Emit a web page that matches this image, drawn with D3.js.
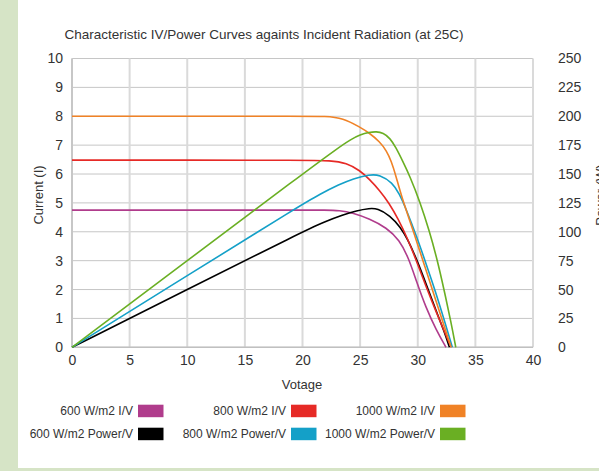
<!DOCTYPE html>
<html><head><meta charset="utf-8">
<script src="https://cdn.jsdelivr.net/npm/d3@7"></script>
<style>
html,body{margin:0;padding:0;background:#fff;}
svg{display:block;}
text{font-family:"Liberation Sans",Arial,sans-serif;fill:#333;}
</style></head>
<body><svg id="c" width="599" height="471"></svg>
<script>
// ---- data ----
const xTicks = [0,5,10,15,20,25,30,35,40];
const leftTicks = [0,1,2,3,4,5,6,7,8,9,10];
const rightTicks = [0,25,50,75,100,125,150,175,200,225,250];

// I/V curves (current, A) vs voltage
const iv600V = [0, 10, 20, 22, 23.2, 24.4, 25.8, 27.3, 28.4, 29.2, 29.9, 30.7, 31.6, 32.45];
const iv600I = [4.75, 4.75, 4.75, 4.75, 4.74, 4.65, 4.45, 4.14, 3.72, 3.1, 2.27, 1.38, 0.6, 0];
const iv800V = [0, 10, 20, 22.5, 23.8, 25.0, 25.8, 26.7, 27.5, 28.3, 29.1, 29.9, 30.7, 31.6, 32.3, 32.9];
const iv800I = [6.48, 6.48, 6.48, 6.47, 6.38, 6.12, 5.82, 5.43, 5.0, 4.45, 3.78, 2.98, 2.12, 1.22, 0.56, 0];
const iv1000V = [0, 10, 20, 22, 23.5, 25.0, 25.8, 26.7, 27.3, 27.7, 28.1, 28.6, 29.6, 30.6, 31.6, 32.3, 32.9];
const iv1000I = [8, 8, 8, 8, 7.94, 7.62, 7.42, 7.12, 6.8, 6.45, 5.95, 5.2, 4.05, 2.82, 1.58, 0.72, 0];

// Power curves (W) vs voltage
const p600V = [0, 10, 20, 22, 23.5, 24.7, 25.8, 26.5, 27.6, 28.5, 29.1, 29.9, 30.7, 31.6, 32.3, 32.75];
const p600P = [0, 50, 100, 109, 114.5, 118.3, 120.3, 120.3, 114, 104, 94, 76.5, 55.5, 31.5, 13.5, 0];
const p800V = [0, 10, 20, 21.5, 23.2, 24.4, 25.8, 26.7, 27.8, 28.4, 29.0, 29.9, 30.7, 31.6, 32.3, 33.0];
const p800P = [0, 62, 124, 132.5, 141, 146, 149.5, 149.5, 142.5, 133, 119.5, 96, 73, 46.5, 23.5, 0];
const p1000V = [0, 10, 20, 23, 24.2, 25.0, 25.8, 26.4, 27.0, 27.6, 28.1, 28.7, 29.3, 30.2, 31.0, 31.7, 32.3, 32.9, 33.3];
const p1000P = [0, 75, 150, 172, 180, 184, 186.2, 186.8, 185.6, 181, 173, 161, 148.5, 125.7, 101, 75.5, 49, 21, 0];

const legendLabels = ["600 W/m2 I/V","800 W/m2 I/V","1000 W/m2 I/V","600 W/m2 Power/V","800 W/m2 Power/V","1000 W/m2 Power/V"];
const colors = ["#b03c8c","#e62a26","#f08226","#000000","#14a0c8","#6aaf23"];

// ---- drawing ----
const svg = d3.select("#c");
const L = 72, R = 533, T = 58.5, B = 347.3;
const x = d3.scaleLinear().domain([0,40]).range([L,R]);
const yL = d3.scaleLinear().domain([0,10]).range([B,T]);
const yR = d3.scaleLinear().domain([0,250]).range([B,T]);

// background strips
svg.append("rect").attr("x",0).attr("y",0).attr("width",18).attr("height",471).attr("fill","#d6e4c6");
svg.append("rect").attr("x",0).attr("y",468).attr("width",599).attr("height",3).attr("fill","#d6e4c6");

// grid
const grid = svg.append("g");
grid.selectAll("line.h").data(leftTicks).join("line").attr("class","h")
  .attr("x1",L).attr("x2",R).attr("y1",d=>yL(d)).attr("y2",d=>yL(d))
  .attr("stroke","#c6c6c6").attr("stroke-width",1);
grid.selectAll("line.v").data(xTicks).join("line").attr("class","v")
  .attr("x1",d=>x(d)).attr("x2",d=>x(d)).attr("y1",T).attr("y2",B)
  .attr("stroke","#dadada").attr("stroke-width",2);
svg.append("line").attr("x1",L).attr("x2",L).attr("y1",T).attr("y2",B).attr("stroke","#c0c0c0").attr("stroke-width",1.5);
svg.append("line").attr("x1",L).attr("x2",R).attr("y1",B).attr("y2",B).attr("stroke","#c0c0c0").attr("stroke-width",1.5);

// axes (labels)
function styleAxis(g){ g.select(".domain").remove(); g.selectAll("line").remove();
  g.selectAll("text").attr("font-family","Liberation Sans, Arial, sans-serif").attr("font-size",14).attr("fill","#333"); }
svg.append("g").attr("transform",`translate(${L},0)`)
  .call(d3.axisLeft(yL).tickValues(leftTicks).tickSize(0).tickPadding(9)).call(styleAxis);
svg.append("g").attr("transform",`translate(${R},0)`)
  .call(d3.axisRight(yR).tickValues(rightTicks).tickSize(0).tickPadding(25)).call(styleAxis);
svg.append("g").attr("transform",`translate(0,${B})`)
  .call(d3.axisBottom(x).tickValues(xTicks).tickSize(0).tickPadding(8)).call(styleAxis);

// series
const line = (ys)=>d3.line().x(d=>x(d[0])).y(d=>ys(d[1])).curve(d3.curveBasis);
const series = [
  {v:iv600V, y:iv600I, s:yL, c:colors[0]},
  {v:p600V, y:p600P, s:yR, c:colors[3]},
  {v:iv800V, y:iv800I, s:yL, c:colors[1]},
  {v:p800V, y:p800P, s:yR, c:colors[4]},
  {v:iv1000V, y:iv1000I, s:yL, c:colors[2]},
  {v:p1000V, y:p1000P, s:yR, c:colors[5]},
];
series.forEach(sr=>{
  svg.append("path").datum(sr.v.map((v,i)=>[v,sr.y[i]]))
    .attr("d", line(sr.s)).attr("fill","none").attr("stroke",sr.c).attr("stroke-width",1.6);
});

// title & axis titles
svg.append("text").attr("x",264).attr("y",39).attr("text-anchor","middle").attr("font-size",13.5).text("Characteristic IV/Power Curves againts Incident Radiation (at 25C)");
svg.append("text").attr("x",302).attr("y",389).attr("text-anchor","middle").attr("font-size",13).text("Votage");
svg.append("text").attr("transform","translate(43,195) rotate(-90)").attr("text-anchor","middle").attr("font-size",13).text("Current (I)");
svg.append("text").attr("transform","translate(605,195) rotate(-90)").attr("text-anchor","middle").attr("font-size",13).text("Power (W)");

// legend
const legEnd = [133, 286, 435];
const legRow = [411, 434];
legendLabels.forEach((lab,i)=>{
  const col = i%3, row = Math.floor(i/3);
  const idx = row===0 ? col : 3+col;
  svg.append("text").attr("x",legEnd[col]).attr("y",legRow[row]).attr("dy","0.35em")
    .attr("text-anchor","end").attr("font-size",12).text(lab);
  svg.append("rect").attr("x",legEnd[col]+5).attr("y",legRow[row]-6.3).attr("width",25.5).attr("height",12.5).attr("fill",colors[idx]);
});
</script></body></html>
